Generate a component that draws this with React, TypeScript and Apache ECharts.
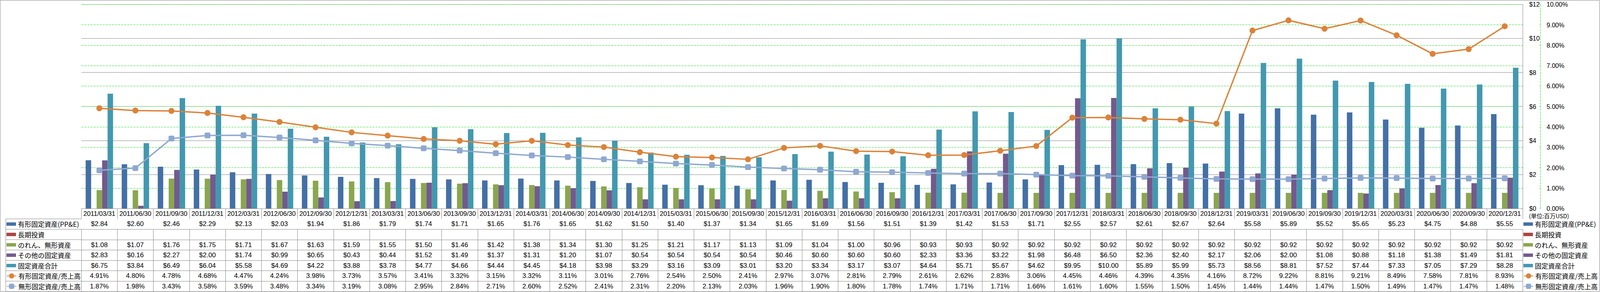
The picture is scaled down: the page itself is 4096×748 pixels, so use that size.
import React, { useEffect, useRef } from "react";
import * as echarts from "echarts";

const W = 4096;
const H = 748;
const S = 4096 / 4701;

const categories = [
  "2011/03/31", "2011/06/30", "2011/09/30", "2011/12/31",
  "2012/03/31", "2012/06/30", "2012/09/30", "2012/12/31",
  "2013/03/31", "2013/06/30", "2013/09/30", "2013/12/31",
  "2014/03/31", "2014/06/30", "2014/09/30", "2014/12/31",
  "2015/03/31", "2015/06/30", "2015/09/30", "2015/12/31",
  "2016/03/31", "2016/06/30", "2016/09/30", "2016/12/31",
  "2017/03/31", "2017/06/30", "2017/09/30", "2017/12/31",
  "2018/03/31", "2018/06/30", "2018/09/30", "2018/12/31",
  "2019/03/31", "2019/06/30", "2019/09/30", "2019/12/31",
  "2020/03/31", "2020/06/30", "2020/09/30", "2020/12/31",
];

const ppe = [
  2.84, 2.60, 2.46, 2.29, 2.13, 2.03, 1.94, 1.86, 1.79, 1.74,
  1.71, 1.65, 1.76, 1.65, 1.62, 1.50, 1.40, 1.37, 1.34, 1.65,
  1.69, 1.56, 1.51, 1.39, 1.42, 1.53, 1.71, 2.55, 2.57, 2.61,
  2.67, 2.64, 5.58, 5.89, 5.52, 5.65, 5.23, 4.75, 4.88, 5.55,
];

const longTermInvestments: (number | null)[] = [
  null, null, null, null, null, null, null, null, null, null,
  null, null, null, null, null, null, null, null, null, null,
  null, null, null, null, null, null, null, null, null, null,
  null, null, null, null, null, null, null, null, null, null,
];

const goodwillIntangibles = [
  1.08, 1.07, 1.76, 1.75, 1.71, 1.67, 1.63, 1.59, 1.55, 1.50,
  1.46, 1.42, 1.38, 1.34, 1.30, 1.25, 1.21, 1.17, 1.13, 1.09,
  1.04, 1.00, 0.96, 0.93, 0.93, 0.92, 0.92, 0.92, 0.92, 0.92,
  0.92, 0.92, 0.92, 0.92, 0.92, 0.92, 0.92, 0.92, 0.92, 0.92,
];

const otherFixedAssets = [
  2.83, 0.16, 2.27, 2.00, 1.74, 0.99, 0.65, 0.43, 0.44, 1.52,
  1.49, 1.37, 1.31, 1.20, 1.07, 0.54, 0.54, 0.54, 0.54, 0.46,
  0.60, 0.60, 0.60, 2.33, 3.36, 3.22, 1.98, 6.48, 6.50, 2.36,
  2.40, 2.17, 2.06, 2.00, 1.08, 0.88, 1.18, 1.38, 1.49, 1.81,
];

const totalFixedAssets = [
  6.75, 3.84, 6.49, 6.04, 5.58, 4.69, 4.22, 3.88, 3.78, 4.77,
  4.66, 4.44, 4.45, 4.18, 3.98, 3.29, 3.16, 3.09, 3.01, 3.20,
  3.34, 3.17, 3.07, 4.64, 5.71, 5.67, 4.62, 9.95, 10.00, 5.89,
  5.99, 5.73, 8.56, 8.81, 7.52, 7.44, 7.33, 7.05, 7.29, 8.28,
];

const ppeToSales = [
  4.91, 4.80, 4.78, 4.68, 4.47, 4.24, 3.98, 3.73, 3.57, 3.41,
  3.32, 3.15, 3.32, 3.11, 3.01, 2.76, 2.54, 2.50, 2.41, 2.97,
  3.07, 2.81, 2.79, 2.61, 2.62, 2.83, 3.06, 4.45, 4.46, 4.39,
  4.35, 4.16, 8.72, 9.22, 8.81, 9.21, 8.49, 7.58, 7.81, 8.93,
];

const intangibleToSales = [
  1.87, 1.98, 3.43, 3.58, 3.59, 3.48, 3.34, 3.19, 3.08, 2.95,
  2.84, 2.71, 2.60, 2.52, 2.41, 2.31, 2.20, 2.13, 2.03, 1.96,
  1.90, 1.80, 1.78, 1.74, 1.71, 1.71, 1.66, 1.61, 1.60, 1.55,
  1.50, 1.45, 1.44, 1.44, 1.47, 1.50, 1.49, 1.47, 1.47, 1.48,
];

const barNames = ["有形固定資産(PP&E)", "長期投資", "のれん、無形資産", "その他の固定資産", "固定資産合計"];
const lineNames = ["有形固定資産/売上高", "無形固定資産/売上高"];
const unitLabel = "(単位:百万USD)";

const dollarAxis = { min: 0, max: 12, interval: 2 };
const percentAxis = { min: 0, max: 10, interval: 1 };

const COLORS = {
  ppe: "#4470A6",
  lti: "#AA4643",
  goodwill: "#8AA64F",
  other: "#725A8D",
  total: "#4398AF",
  orange: "#DC8239",
  lightBlue: "#8FA8D0",
  grid: "#868686",
  green: "#22E022",
};

const LATIN = "'Liberation Sans', Arial, sans-serif";
const TABLE_FONT = "'Liberation Sans Narrow', 'Liberation Sans', Arial, sans-serif";
const CJK = "'Noto Sans CJK JP', 'Noto Sans', sans-serif";

const fmtDollar = (v: number | null) => (v == null ? "" : "$" + v.toFixed(2));
const fmtPct = (v: number | null) => (v == null ? "" : v.toFixed(2) + "%");

export default function App() {
  const ref = useRef<HTMLDivElement>(null);

  useEffect(() => {
    document.body.style.margin = "0";
    if (!ref.current) return;
    const chart = echarts.init(ref.current, null, { renderer: "svg" });
    const s = (v: number) => v * S;

    const plotL = s(239);
    const plotR = s(4474);
    const plotT = s(13);
    const plotB = s(613);
    const rowH = s(30.5);
    const tableL = s(17);
    const rowTop = (k: number) => plotB + k * rowH;

    const tableRows: string[][] = [
      categories,
      ppe.map(fmtDollar),
      longTermInvestments.map(fmtDollar),
      goodwillIntangibles.map(fmtDollar),
      otherFixedAssets.map(fmtDollar),
      totalFixedAssets.map(fmtDollar),
      ppeToSales.map(fmtPct),
      intangibleToSales.map(fmtPct),
    ];

    const xAxes = tableRows.map((row, k) => ({
      type: "category",
      gridIndex: 0,
      position: "bottom",
      offset: k * rowH,
      data: categories,
      boundaryGap: true,
      axisLine: { show: true, lineStyle: { color: COLORS.grid, width: 1 } },
      axisTick: { show: true, interval: 0, length: rowH, lineStyle: { color: COLORS.grid, width: 1 } },
      axisLabel: {
        interval: 0,
        margin: rowH / 2,
        verticalAlign: "middle",
        formatter: (_v: string, i: number) => row[i],
        fontSize: k === 0 ? s(19) : s(19.5),
        fontFamily: k === 0 ? LATIN : TABLE_FONT,
        color: "#000",
      },
      splitLine: { show: false },
    }));

    const legendText = {
      fontFamily: CJK,
      fontSize: s(19.5),
      color: "#000",
      lineHeight: rowH,
    };

    const makeLegend = (left: number, top: number, names: string[], isBar: boolean) => ({
      orient: "vertical",
      left,
      top,
      padding: 0,
      itemGap: 0,
      itemWidth: s(28),
      itemHeight: isBar ? s(10) : s(19),
      selectedMode: false,
      data: names.map((name) => (isBar ? { name, icon: "rect" } : { name })),
      textStyle: legendText,
    });

    const barSeries = [
      { name: barNames[0], data: ppe, color: COLORS.ppe },
      { name: barNames[1], data: longTermInvestments, color: COLORS.lti },
      { name: barNames[2], data: goodwillIntangibles, color: COLORS.goodwill },
      { name: barNames[3], data: otherFixedAssets, color: COLORS.other },
      { name: barNames[4], data: totalFixedAssets, color: COLORS.total },
    ].map((b) => ({
      type: "bar",
      name: b.name,
      data: b.data,
      xAxisIndex: 0,
      yAxisIndex: 0,
      barGap: "0%",
      barCategoryGap: "24%",
      itemStyle: { color: b.color },
      z: 2,
    }));

    const lineSeries = [
      {
        type: "line",
        name: lineNames[0],
        data: ppeToSales,
        xAxisIndex: 0,
        yAxisIndex: 1,
        symbol: "circle",
        symbolSize: s(17.5),
        lineStyle: { color: COLORS.orange, width: s(4) },
        itemStyle: { color: COLORS.orange },
        z: 4,
      },
      {
        type: "line",
        name: lineNames[1],
        data: intangibleToSales,
        xAxisIndex: 0,
        yAxisIndex: 1,
        symbol: "roundRect",
        symbolSize: s(17),
        lineStyle: { color: COLORS.lightBlue, width: s(4) },
        itemStyle: { color: COLORS.lightBlue },
        z: 3,
      },
    ];

    const gline = (x1: number, y1: number, x2: number, y2: number) => ({
      type: "line",
      shape: { x1, y1, x2, y2 },
      style: { stroke: COLORS.grid, lineWidth: 1 },
      silent: true,
    });

    const graphics: any[] = [
      {
        type: "rect",
        shape: { x: 0.5, y: s(1), width: s(4699), height: s(856) },
        style: { fill: "none", stroke: COLORS.grid, lineWidth: 1 },
        silent: true,
      },
      gline(tableL, rowTop(1), tableL, rowTop(8)),
      gline(tableL, rowTop(8), plotR, rowTop(8)),
    ];
    for (let k = 1; k <= 7; k++) graphics.push(gline(tableL, rowTop(k), plotL, rowTop(k)));
    graphics.push({
      type: "text",
      x: s(4492),
      y: s(634),
      style: {
        text: unitLabel,
        fontFamily: CJK,
        fontSize: s(17),
        fill: "#000",
        verticalAlign: "middle",
        align: "left",
      },
      silent: true,
    });

    const option: any = {
      animation: false,
      backgroundColor: "#fff",
      grid: {
        left: plotL,
        top: plotT,
        width: plotR - plotL,
        height: plotB - plotT,
        containLabel: false,
      },
      xAxis: xAxes,
      yAxis: [
        {
          type: "value",
          position: "right",
          min: dollarAxis.min,
          max: dollarAxis.max,
          interval: dollarAxis.interval,
          axisLine: { show: true, lineStyle: { color: COLORS.grid, width: 1 } },
          axisTick: { show: false },
          axisLabel: {
            margin: s(19),
            formatter: (v: number) => "$" + v,
            fontFamily: LATIN,
            fontSize: s(18.5),
            color: "#000",
          },
          splitLine: { show: true, lineStyle: { color: COLORS.grid, width: 1 } },
        },
        {
          type: "value",
          position: "right",
          offset: s(52),
          min: percentAxis.min,
          max: percentAxis.max,
          interval: percentAxis.interval,
          axisLine: { show: true, lineStyle: { color: COLORS.green, width: 1, type: [s(6), s(3)] } },
          axisTick: { show: true, inside: true, length: s(3), lineStyle: { color: COLORS.green } },
          axisLabel: {
            margin: s(18),
            formatter: (v: number) => v.toFixed(2) + "%",
            fontFamily: LATIN,
            fontSize: s(18.5),
            color: "#000",
          },
          splitLine: { show: true, lineStyle: { color: COLORS.green, width: 1, type: [s(6), s(3)] } },
        },
      ],
      legend: [
        makeLegend(s(19), rowTop(1), barNames, true),
        makeLegend(s(19), rowTop(6), lineNames, false),
        makeLegend(s(4476), rowTop(1), barNames, true),
        makeLegend(s(4476), rowTop(6), lineNames, false),
      ],
      graphic: graphics,
      series: [...barSeries, ...lineSeries],
    };

    chart.setOption(option);
    return () => chart.dispose();
  }, []);

  return (
    <div
      ref={ref}
      style={{ position: "fixed", left: 0, top: 0, width: W, height: H, background: "#fff" }}
    />
  );
}
